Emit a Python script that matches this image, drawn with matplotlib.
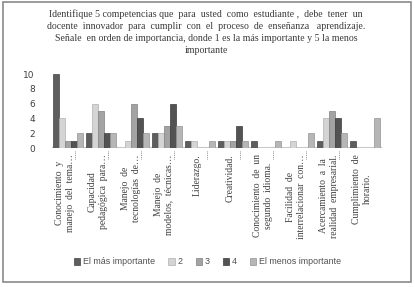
import matplotlib
matplotlib.use("Agg")
import matplotlib.pyplot as plt
from matplotlib.patches import Rectangle
import numpy as np

categories = [
    "Conocimiento  y\nmanejo  del  tema…",
    "Capacidad\npedagógica  para…",
    "Manejo  de\ntecnologías  de…",
    "Manejo  de\nmodelos,  técnicas…",
    "Liderazgo.",
    "Creatividad.",
    "Conocimiento  de  un\nsegundo  idioma.",
    "Facilidad  de\ninterrelacionar  con…",
    "Acercamiento  a  la\nrealidad  empresarial.",
    "Cumplimiento  de\nhorario.",
]
series_names = ["El más importante", "2", "3", "4", "El menos importante"]
mas_importante = [10, 2, 0, 2, 1, 1, 1, 0, 1, 1]
s2 = [4, 6, 1, 2, 1, 1, 0, 1, 4, 0]
s3 = [1, 5, 6, 3, 0, 1, 0, 0, 5, 0]
s4 = [1, 2, 4, 6, 0, 3, 0, 0, 4, 0]
menos_importante = [2, 2, 2, 3, 1, 1, 1, 2, 2, 4]
yticks = [0, 2, 4, 6, 8, 10]

title = ("Identifique 5 competencias que  para  usted  como  estudiante ,  debe  tener  un\n"
         "docente  innovador  para  cumplir  con  el  proceso  de  enseñanza   aprendizaje.\n"
         "Señale  en orden de importancia, donde 1 es la más importante y 5 la menos\n"
         "importante")

colors = ['#5e5e5e', '#d4d4d4', '#a3a3a3', '#535353', '#b6b6b6']
edges = ['#444444', '#b0b0b0', '#808080', '#3a3a3a', '#939393']

W, H = 415, 287
fig = plt.figure(figsize=(W / 100, H / 100), dpi=100)

# frame
fig.patches.append(Rectangle((3 / W, 1 - 282 / H), 408 / W, 280 / H, transform=fig.transFigure,
                             fill=False, edgecolor='#8a8a8a', linewidth=1.2))

fig.text(0.497, 1 - 9 / H, title, ha='center', va='top', fontsize=7.1,
         family='Liberation Serif', color='#3a3a3a', linespacing=1.42)

left, right = 51.5, 381.5
bottom_px, top_px = 148, 71
ax = fig.add_axes([left / W, 1 - bottom_px / H, (right - left) / W, (bottom_px - top_px) / H])
ymax = (bottom_px - top_px) / 7.4
ax.set_ylim(0, ymax)
ax.set_xlim(-0.5, len(categories) - 0.5)

x = np.arange(len(categories))
all_series = [mas_importante, s2, s3, s4, menos_importante]
bw = 0.182
for k, vals in enumerate(all_series):
    offs = (k - 2) * bw
    ax.bar(x + offs, vals, width=bw, color=colors[k], edgecolor=edges[k], linewidth=0.5,
           label=series_names[k], zorder=3)

for s in ax.spines.values():
    s.set_visible(False)
ax.set_yticks(yticks)
ax.set_yticklabels([str(v) for v in yticks], fontsize=6.5, color='#404040', family='DejaVu Sans')
ax.tick_params(axis='y', length=0, pad=12)
ax.set_xticks([])

# floor
ax.axhline(0, color='#c8c8c8', linewidth=1.5, zorder=1)

# dotted tick marks between categories (front plane)
for b in np.arange(len(categories) - 1) + 0.5:
    ax.plot([b - 0.3, b - 0.3], [-0.4, -1.5], color='#707070', linewidth=0.6,
            linestyle=(0, (1, 1.2)), clip_on=False)

# category labels
for i, lab in enumerate(categories):
    ax.text(i - 0.1, -0.85, lab, rotation=90, ha='center', va='top', multialignment='center',
            fontsize=6.9, family='Liberation Serif', color='#404040', linespacing=1.3,
            transform=ax.transData, clip_on=False)

handles, labels = ax.get_legend_handles_labels()
fig.legend(handles, labels, loc='center', bbox_to_anchor=(0.5, 25 / H), ncol=5, frameon=False,
           handlelength=0.7, handleheight=0.7, handletextpad=0.3, columnspacing=1.5,
           labelcolor='#505050', prop={'family': 'Liberation Sans', 'size': 6.4})

fig.savefig("out.png", dpi=100, facecolor='white')
